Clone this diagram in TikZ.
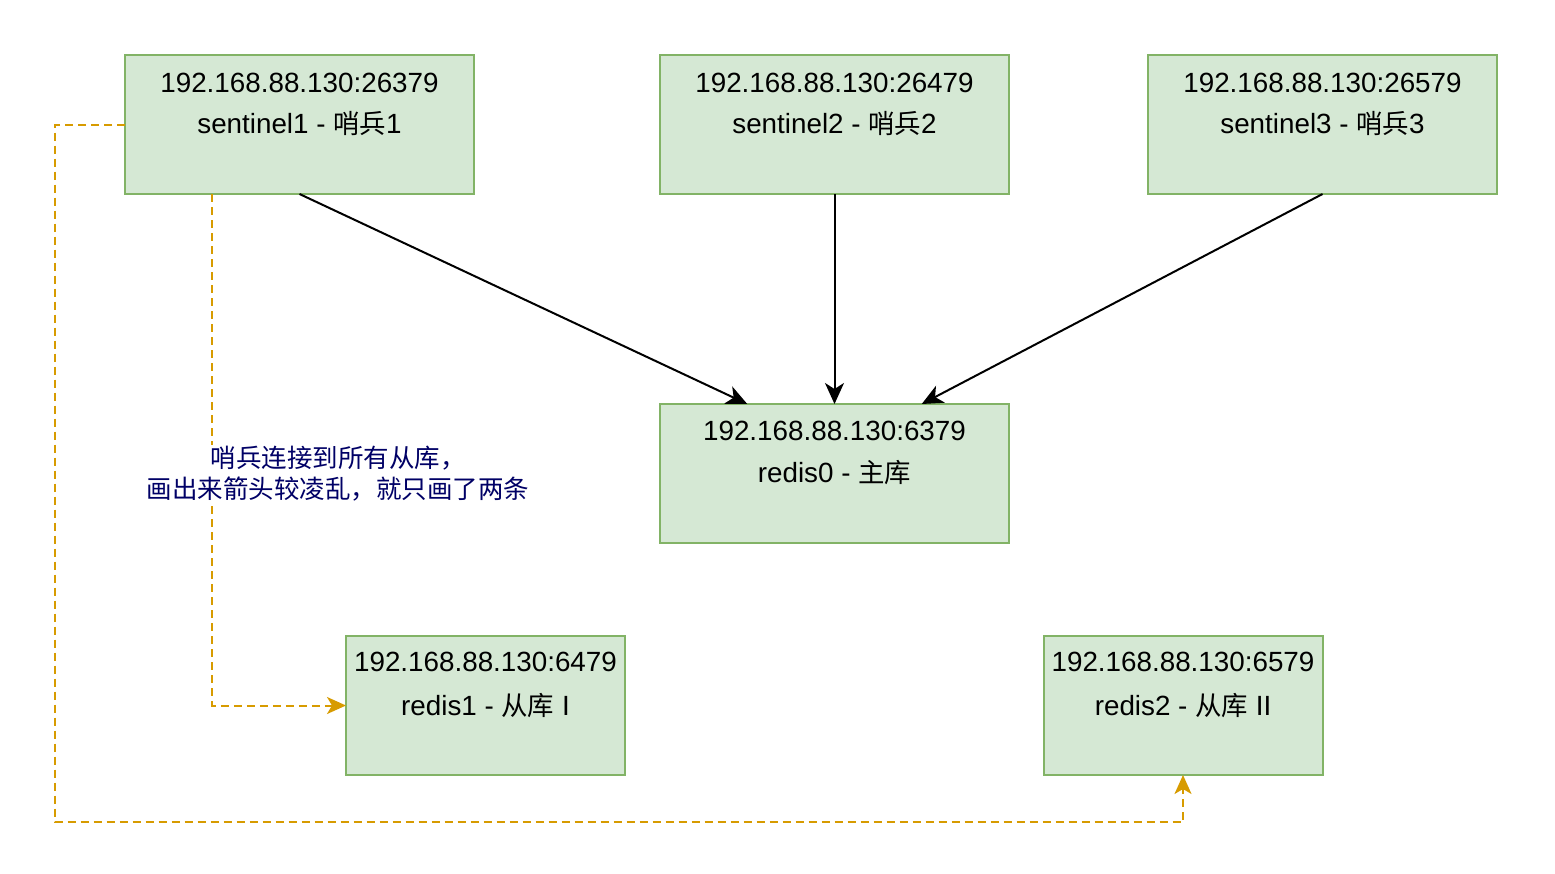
\documentclass[tikz,border=0pt]{standalone}
\usepackage{fontspec}
\setmainfont{Liberation Sans}
\newfontfamily\cjk[Scale=0.95]{Noto Sans CJK SC}
\newfontfamily\cjklabel{Noto Sans CJK SC}
\usetikzlibrary{arrows.meta,calc}
\definecolor{boxfill}{HTML}{D5E8D4}
\definecolor{boxline}{HTML}{82B366}
\definecolor{dashc}{HTML}{D79B00}
\definecolor{navy}{HTML}{000066}
\begin{document}
\begin{tikzpicture}[x=1pt,y=-1pt,
  box/.style={draw=boxline, fill=boxfill, line width=2pt, minimum width=349pt, minimum height=139pt, inner sep=0pt, outer sep=0pt},
  sbox/.style={box, minimum width=279pt},
  txt/.style={anchor=base, inner sep=0pt, font=\fontsize{27.8}{33}\selectfont},
  solidarrow/.style={draw=black, line width=2pt, -{Stealth[length=21pt, width=19pt, inset=6pt]}},
  dasharrow/.style={draw=dashc, line width=2pt, dash pattern=on 8pt off 5pt, -{Stealth[length=19pt, width=17pt, inset=5pt]}},
  note/.style={align=center, fill=white, inner sep=1pt, text=navy, font=\cjklabel\fontsize{25.5}{31}\selectfont}
]
\useasboundingbox (0,0) rectangle (1555,873);

% boxes
\node[box] (s1) at (299.5,124.5) {};
\node[box] (s2) at (834.5,124.5) {};
\node[box] (s3) at (1322.5,124.5) {};
\node[box] (r0) at (834.5,473.5) {};
\node[sbox] (r1) at (485.5,705.5) {};
\node[sbox] (r2) at (1183,705.5) {};

% texts
\node[txt] (s1a) at (299.5,92) {192.168.88.130:26379};
\node[txt] (s1b) at (299.5,133) {sentinel1 - {\cjk 哨兵}1};
\node[txt] (s2a) at (834.5,92) {192.168.88.130:26479};
\node[txt] (s2b) at (834.5,133) {sentinel2 - {\cjk 哨兵}2};
\node[txt] (s3a) at (1322.5,92) {192.168.88.130:26579};
\node[txt] (s3b) at (1322.5,133) {sentinel3 - {\cjk 哨兵}3};
\node[txt] (r0a) at (834.5,440) {192.168.88.130:6379};
\node[txt] (r0b) at (834.5,482) {redis0 - {\cjk 主库}};
\node[txt] (r1a) at (485.5,671) {192.168.88.130:6479};
\node[txt] (r1b) at (485.5,715) {redis1 - {\cjk 从库} I};
\node[txt] (r2a) at (1183,671) {192.168.88.130:6579};
\node[txt] (r2b) at (1183,715) {redis2 - {\cjk 从库} II};

% solid arrows
\coordinate (r0L) at ($(r0.north west)!0.25!(r0.north east)$);
\coordinate (r0R) at ($(r0.north west)!0.75!(r0.north east)$);
\draw[solidarrow] (s1.south) -- (r0L);
\draw[solidarrow] (s2.south) -- (r0.north);
\draw[solidarrow] (s3.south) -- (r0R);

% dashed arrows
\coordinate (s1q) at ($(s1.south west)!0.25!(s1.south east)$);
\draw[dasharrow] (s1q) |- (r1.west);
\draw[dasharrow] (s1.west) -- ++(-70,0) |- ($(r2.south)+(0,47)$) -- (r2.south);

% note
\node[note] (lab) at (338,474) {哨兵连接到所有从库，\\画出来箭头较凌乱，就只画了两条};
\end{tikzpicture}
\end{document}
